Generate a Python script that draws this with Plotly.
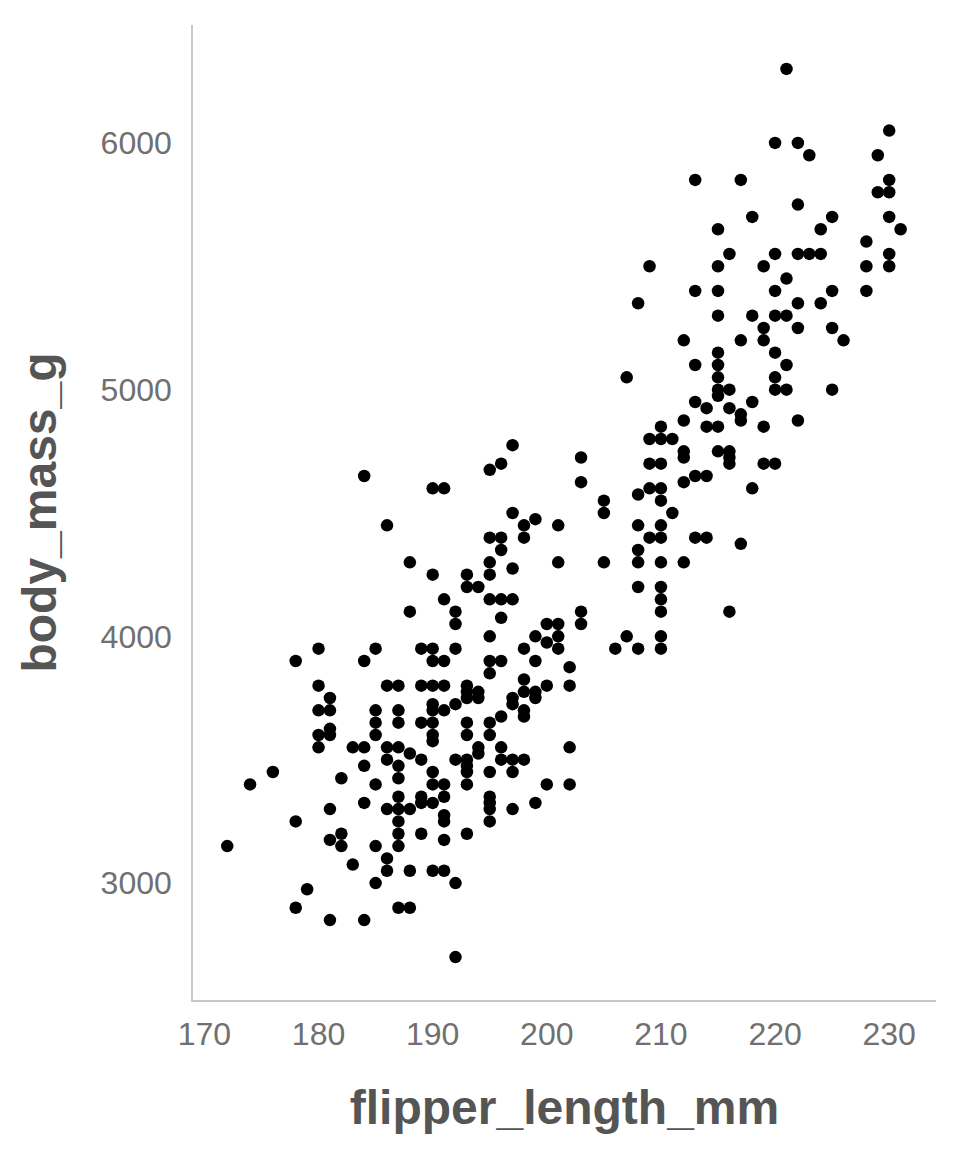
import plotly.graph_objects as go

# Each line: one flipper length column
flipper_length_mm = [
    172,
    174,
    176,
    178, 178, 178,
    179,
    180, 180, 180, 180, 180,
    181, 181, 181, 181, 181, 181, 181,
    182, 182, 182,
    183, 183,
    184, 184, 184, 184, 184, 184,
    185, 185, 185, 185, 185, 185, 185,
    186, 186, 186, 186, 186, 186, 186,
    187, 187, 187, 187, 187, 187, 187, 187, 187, 187, 187, 187,
    188, 188, 188, 188, 188, 188,
    189, 189, 189, 189, 189, 189, 189,
    190, 190, 190, 190, 190, 190, 190, 190, 190, 190, 190, 190, 190, 190,
    191, 191, 191, 191, 191, 191, 191, 191, 191, 191, 191,
    192, 192, 192, 192, 192, 192, 192,
    193, 193, 193, 193, 193, 193, 193, 193, 193, 193, 193, 193,
    194, 194, 194, 194, 194,
    195, 195, 195, 195, 195, 195, 195, 195, 195, 195, 195, 195, 195, 195, 195,
    196, 196, 196, 196, 196, 196, 196, 196, 196,
    197, 197, 197, 197, 197, 197, 197, 197, 197,
    198, 198, 198, 198, 198, 198, 198, 198,
    199, 199, 199, 199, 199, 199,
    200, 200, 200, 200,
    201, 201, 201, 201, 201,
    202, 202, 202, 202,
    203, 203, 203, 203,
    205, 205, 205,
    206,
    207, 207,
    208, 208, 208, 208, 208, 208, 208,
    209, 209, 209, 209, 209,
    210, 210, 210, 210, 210, 210, 210, 210, 210, 210, 210, 210, 210,
    211, 211,
    212, 212, 212, 212, 212, 212,
    213, 213, 213, 213, 213, 213,
    214, 214, 214, 214,
    215, 215, 215, 215, 215, 215, 215, 215, 215, 215, 215,
    216, 216, 216, 216, 216, 216, 216,
    217, 217, 217, 217, 217,
    218, 218, 218, 218,
    219, 219, 219, 219, 219,
    220, 220, 220, 220, 220, 220, 220, 220,
    221, 221, 221, 221, 221,
    222, 222, 222, 222, 222, 222,
    223, 223,
    224, 224, 224,
    225, 225, 225, 225,
    226,
    228, 228, 228,
    229, 229,
    230, 230, 230, 230, 230, 230,
    231,
]

body_mass_g = [
    3150,
    3400,
    3450,
    3900, 3250, 2900,
    2975,
    3950, 3800, 3700, 3600, 3550,
    3750, 3700, 3625, 3600, 3300, 3175, 2850,
    3425, 3200, 3150,
    3550, 3075,
    4650, 3900, 3550, 3475, 3325, 2850,
    3950, 3700, 3650, 3600, 3400, 3150, 3000,
    4450, 3800, 3550, 3500, 3300, 3100, 3050,
    3800, 3700, 3650, 3550, 3475, 3425, 3350, 3300, 3250, 3200, 3150, 2900,
    4300, 4100, 3525, 3300, 3050, 2900,
    3950, 3800, 3650, 3500, 3350, 3325, 3200,
    4600, 4250, 3950, 3900, 3800, 3725, 3700, 3650, 3600, 3575, 3450, 3400, 3325, 3050,
    4600, 4150, 3900, 3800, 3700, 3400, 3350, 3275, 3250, 3175, 3050,
    4100, 4050, 3950, 3725, 3500, 3000, 2700,
    4250, 4200, 3800, 3775, 3750, 3650, 3600, 3500, 3475, 3450, 3400, 3200,
    4200, 3775, 3750, 3550, 3525,
    4675, 4400, 4300, 4250, 4150, 4000, 3900, 3850, 3650, 3600, 3450, 3350, 3325, 3300, 3250,
    4700, 4400, 4350, 4150, 4075, 3900, 3675, 3550, 3500,
    4775, 4500, 4275, 4150, 3750, 3725, 3500, 3450, 3300,
    4450, 4400, 3950, 3825, 3775, 3700, 3675, 3500,
    4475, 4000, 3900, 3775, 3750, 3325,
    4050, 3975, 3800, 3400,
    4450, 4300, 4050, 4000, 3950,
    3875, 3800, 3550, 3400,
    4725, 4625, 4100, 4050,
    4550, 4500, 4300,
    3950,
    5050, 4000,
    5350, 4575, 4450, 4350, 4300, 4200, 3950,
    5500, 4800, 4700, 4600, 4400,
    4850, 4800, 4700, 4600, 4550, 4450, 4400, 4300, 4200, 4150, 4100, 4000, 3950,
    4800, 4500,
    5200, 4875, 4750, 4725, 4625, 4300,
    5850, 5400, 5100, 4950, 4650, 4400,
    4925, 4850, 4650, 4400,
    5650, 5500, 5400, 5300, 5150, 5100, 5050, 5000, 4975, 4850, 4750,
    5550, 5000, 4925, 4750, 4725, 4700, 4100,
    5850, 5200, 4900, 4875, 4375,
    5700, 5300, 4950, 4600,
    5500, 5250, 5200, 4850, 4700,
    6000, 5550, 5400, 5300, 5150, 5050, 5000, 4700,
    6300, 5450, 5300, 5100, 5000,
    6000, 5750, 5550, 5350, 5250, 4875,
    5950, 5550,
    5650, 5550, 5350,
    5700, 5400, 5250, 5000,
    5200,
    5600, 5500, 5400,
    5950, 5800,
    6050, 5850, 5800, 5700, 5550, 5500,
    5650,
]

assert len(flipper_length_mm) == len(body_mass_g)

x_ticks = [170, 180, 190, 200, 210, 220, 230]
y_ticks = [3000, 4000, 5000, 6000]

FONT = "Liberation Sans, Arial, sans-serif"
TICK_COLOR = "#707070"
TITLE_COLOR = "#555555"
LINE_COLOR = "#c8c8c8"

fig = go.Figure(
    go.Scatter(
        x=flipper_length_mm,
        y=body_mass_g,
        mode="markers",
        marker=dict(color="black", size=12.5, line=dict(width=0)),
        hoverinfo="x+y",
    )
)

fig.update_layout(
    width=960,
    height=1152,
    margin=dict(l=185, r=32, t=17, b=160),
    paper_bgcolor="white",
    plot_bgcolor="white",
    showlegend=False,
    font=dict(family=FONT),
)

fig.update_xaxes(
    range=[169.0, 234.1],
    tickvals=x_ticks,
    ticks="",
    ticklabelstandoff=5,
    showgrid=False,
    zeroline=False,
    showline=True,
    linecolor=LINE_COLOR,
    linewidth=1.6,
    tickfont=dict(size=32, color=TICK_COLOR, family=FONT),
    title=dict(
        text="<b>flipper_length_mm</b>",
        font=dict(size=48, color=TITLE_COLOR, family=FONT),
        standoff=39,
    ),
)

fig.update_yaxes(
    range=[2526, 6478],
    tickvals=y_ticks,
    ticks="",
    ticklabelstandoff=13,
    showgrid=False,
    zeroline=False,
    showline=True,
    linecolor=LINE_COLOR,
    linewidth=1.6,
    tickfont=dict(size=32, color=TICK_COLOR, family=FONT),
    title=dict(
        text="<b>body_mass_g</b>",
        font=dict(size=48, color=TITLE_COLOR, family=FONT),
        standoff=29,
    ),
)

fig.write_html("out.html")
